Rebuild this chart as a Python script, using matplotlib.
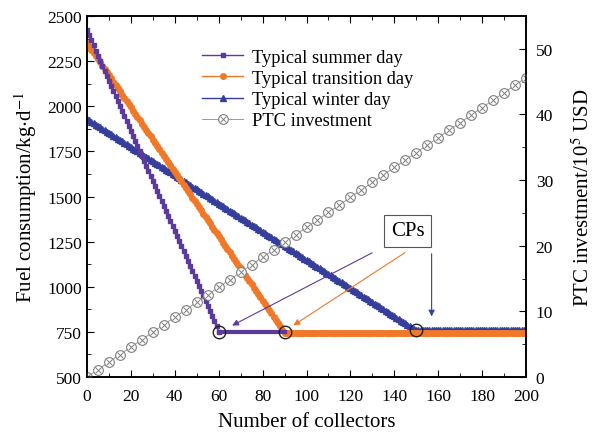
import numpy as np
import matplotlib
matplotlib.use('Agg')
import matplotlib.pyplot as plt
from matplotlib.lines import Line2D

plt.rcParams['font.family'] = ['Liberation Serif', 'DejaVu Serif']
plt.rcParams['mathtext.fontset'] = 'stix'

# number of collectors
n = np.arange(0, 201)

# breakpoints: (start value, CP position, floor value)
summer_start, summer_cp, summer_floor = 2420, 60, 752
trans_start, trans_cp, trans_floor = 2350, 90, 745
winter_start, winter_cp, winter_floor = 1930, 150, 758

# PTC investment (10^5 USD), every 5 collectors
ptc_n = np.arange(0, 201, 5)
ptc_end = 45.6

def seg(start, cp, floor):
    return np.interp(n, [0, cp, 200], [start, floor, floor])

summer = seg(summer_start, summer_cp, summer_floor)
trans = seg(trans_start, trans_cp, trans_floor)
winter = seg(winter_start, winter_cp, winter_floor)
ptc = np.interp(ptc_n, [0, 200], [0, ptc_end])

c_sum = '#5c3a9c'
c_tr = '#f07828'
c_win = '#353f9b'
c_ptc = '#9a9a9a'

fig = plt.figure(figsize=(5.97, 4.39), dpi=100)
ax = fig.add_axes([87/597, 1-378/439, 439/597, 361/439])
ax2 = ax.twinx()

# crossed circles for PTC: line + open circle + x
ax2.plot(ptc_n, ptc, '-', color=c_ptc, lw=0.7)
ax2.plot(ptc_n, ptc, 'o', mfc='white', mec='#808080', ms=7, mew=0.8)
ax2.plot(ptc_n, ptc, 'x', mec='#808080', ms=4.5, mew=0.7)

l3, = ax.plot(n, winter, '-', color=c_win, lw=1, marker='^', ms=4,
              mec=c_win, label='Typical winter day')
l2, = ax.plot(n, trans, '-', color=c_tr, lw=1, marker='o', ms=4,
              mec=c_tr, label='Typical transition day', zorder=3)
l1, = ax.plot(n[:summer_cp+1], summer[:summer_cp+1], '-', color=c_sum, lw=1,
              marker='s', ms=3.2, mec=c_sum, label='Typical summer day', zorder=4)
ax.plot(n[summer_cp:trans_cp+1], summer[summer_cp:trans_cp+1], '-',
        color=c_sum, lw=3, zorder=4)

# critical points
cp_x = [summer_cp, trans_cp, winter_cp]
cp_y = [summer_floor, trans_floor + 5, winter_floor]
ax.plot(cp_x, cp_y, 'o', mfc='none', mec='#222222', ms=9, mew=1, zorder=6)

ax.text(146, 1310, 'CPs', ha='center', va='center', fontsize=15, zorder=7,
        bbox=dict(boxstyle='square,pad=0.3', fc='white', ec='#555555', lw=0.8))
arrows = [((131, 1195), (65, 778), c_sum),
          ((146, 1198), (93, 778), c_tr),
          ((157, 1198), (157, 820), c_win)]
for start, end, col in arrows:
    ax.annotate('', xy=end, xytext=start,
                arrowprops=dict(arrowstyle='-|>', color=col, lw=0.8,
                                mutation_scale=9))

ax.set_xlim(0, 200)
ax.set_ylim(500, 2500)
ax2.set_ylim(0, 55)
ax.set_xticks(np.arange(0, 201, 20))
ax.set_xticks(np.arange(0, 201, 10), minor=True)
ax.set_yticks(np.arange(500, 2501, 250))
ax.set_yticks(np.arange(500, 2501, 125), minor=True)
ax2.set_yticks(np.arange(0, 51, 10))
ax2.set_yticks(np.arange(0, 56, 5), minor=True)

ax.tick_params(which='both', direction='in', top=True, labelsize=12.5)
ax.tick_params(which='major', length=5)
ax.tick_params(which='minor', length=3)
ax.tick_params(axis='y', right=False)
ax.tick_params(axis='x', pad=8)
ax2.tick_params(which='both', direction='in', labelsize=12.5)
ax2.tick_params(which='major', length=5, pad=7)
ax2.tick_params(which='minor', length=3)
for a in (ax, ax2):
    for s in a.spines.values():
        s.set_linewidth(1.2)

ax.set_xlabel('Number of collectors', fontsize=15, labelpad=6)
ax.set_ylabel(r'Fuel consumption/kg$\cdot$d$^{-1}$', fontsize=15, labelpad=6)
ax2.set_ylabel(r'PTC investment/10$^5$ USD', fontsize=15, labelpad=14)

ptc_handle = (Line2D([], [], color=c_ptc, lw=0.7),
              Line2D([], [], ls='none', marker='o', mfc='white', mec='#808080',
                     ms=7, mew=0.8),
              Line2D([], [], ls='none', marker='x', mec='#808080', ms=4.5,
                     mew=0.7))
handles = [l1, l2, l3, ptc_handle]
labels = ['Typical summer day', 'Typical transition day',
          'Typical winter day', 'PTC investment']
ax2.legend(handles, labels, loc='upper left', bbox_to_anchor=(0.225, 0.955),
           frameon=False, fontsize=13.3, handlelength=2.2, labelspacing=0.22,
           handletextpad=0.5)

fig.savefig('out.png', dpi=100)
